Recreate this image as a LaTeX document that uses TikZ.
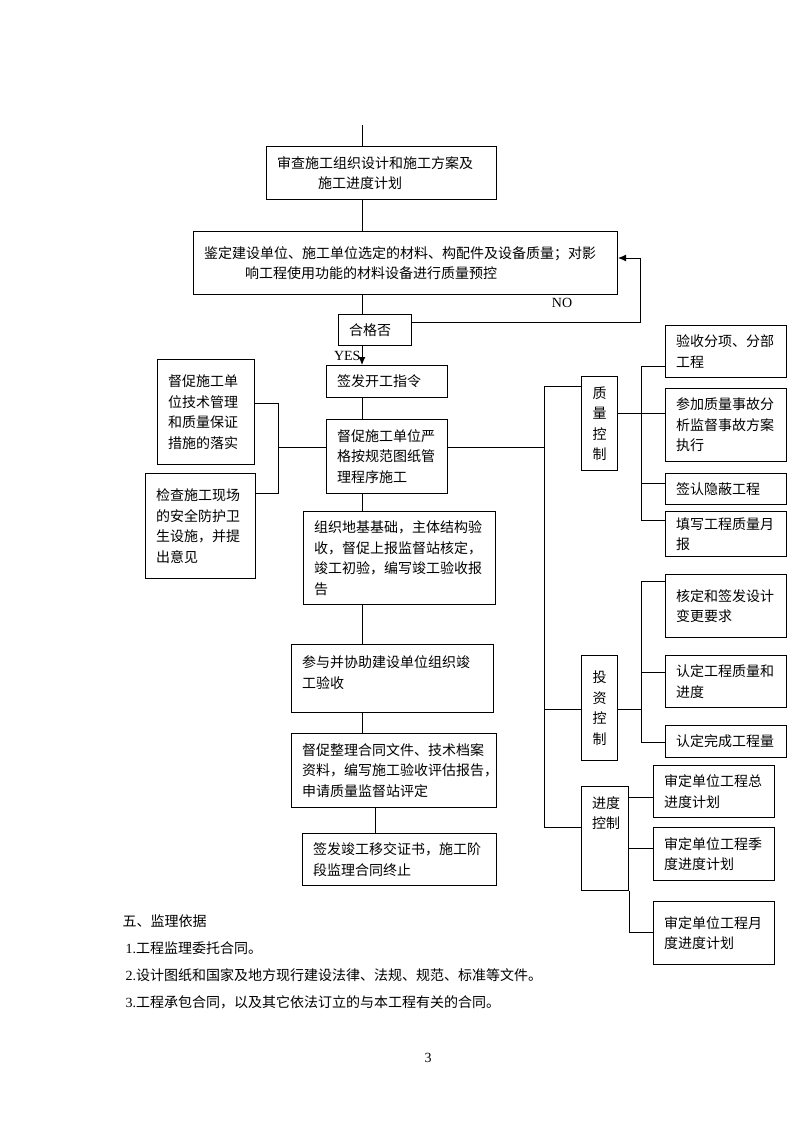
\documentclass[tikz,border=0pt]{standalone}
\usepackage{fontspec}
\setmainfont{Liberation Serif}
\newfontfamily\cjk{Noto Sans CJK SC}
\usetikzlibrary{arrows.meta}

\begin{document}
\begin{tikzpicture}[x=1pt,y=-1pt,line width=1pt,font=\fontsize{14}{17}\selectfont,
    >={Latex[length=8pt,width=7pt]},
    box/.style={draw,anchor=north west,align=left,inner xsep=10.5pt,inner ysep=2pt,
      font=\cjk\fontsize{14}{20.5}\selectfont},
    vbox/.style={box,align=center},
    wh/.style 2 args={minimum width=#1pt,minimum height=#2pt,text width=#1pt-21pt},
    txt/.style={anchor=west,inner sep=0pt,font=\cjk\fontsize{14}{17}\selectfont}]
  \useasboundingbox (0,0) rectangle (800,1132);
  \coordinate (entry) at (362,125);
  \coordinate (spine) at (362,0);
  \coordinate (spinetwo) at (375,0);
  \foreach \n/\x/\y in {noline/640/322, loop/640/258,
      lbtop/278/403, lb/278/447, lbbot/278/493,
      rtop/544/386, rmid/544/709, rbot/544/827,
      qtop/641/366, qmid/641/413, qthree/641/483, qbot/641/520,
      itop/641/581, imid/641/672, ijoin/641/709, ibot/641/742,
      sa/628/797, sb/628/848, sbot/628/932} {
    \coordinate (\n) at (\x,\y);
  }

  % main column
  \node[box,wh={230}{53}] (plan) at (266,146) {审查施工组织设计和施工方案及\\\hspace*{41pt}施工进度计划};
  \node[box,wh={424}{63}] (check) at (193,231) {鉴定建设单位、施工单位选定的材料、构配件及设备质量；对影\\\hspace*{41pt}响工程使用功能的材料设备进行质量预控};
  \node[box,wh={73}{31}] (ok) at (338,314) {合格否};
  \node[box,wh={121}{32}] (start) at (326,365) {签发开工指令};
  \node[box,wh={121}{74}] (urge) at (326,419) {督促施工单位严\\格按规范图纸管\\理程序施工};
  \node[box,wh={192}{93}] (found) at (303,511) {组织地基基础，主体结构验\\收，督促上报监督站核定，\\竣工初验，编写竣工验收报\\告};
  \node[box,wh={202}{68},text height=12pt,text depth=34pt] (accept) at (291,644) {参与并协助建设单位组织竣\\工验收};
  \node[box,wh={205}{74}] (archive) at (291,733) {督促整理合同文件、技术档案\\资料，编写施工验收评估报告，\\申请质量监督站评定};
  \node[box,wh={194}{52}] (handover) at (302,833) {签发竣工移交证书，施工阶\\段监理合同终止};

  % left side
  \node[box,wh={97}{105}] (tech) at (157,359) {督促施工单\\位技术管理\\和质量保证\\措施的落实};
  \node[box,wh={110}{105}] (safe) at (145,473) {检查施工现场\\的安全防护卫\\生设施，并提\\出意见};

  % right side
  \node[vbox,wh={36}{94}] (quality) at (581,376) {质\\量\\控\\制};
  \node[vbox,wh={36}{105}] (invest) at (581,655) {投\\资\\控\\制};
  \node[box,wh={47}{104},inner xsep=10pt,text height=12pt,text depth=73pt] (sched) at (581,786) {进度\\控制};
  \foreach \n/\x/\y/\hh/\txt in {%
      qone/665/325/52/验收分项、分部\\工程,
      qtwo/665/388/73/参加质量事故分\\析监督事故方案\\执行,
      qthr/665/473/31/签认隐蔽工程,
      qfour/665/511/45/填写工程质量月\\报,
      ione/665/574/63/核定和签发设计\\变更要求,
      itwo/665/655/52/认定工程质量和\\进度,
      ithr/665/725/32/认定完成工程量,
      sone/653/765/52/审定单位工程总\\进度计划,
      stwo/653/827/53/审定单位工程季\\度进度计划,
      sthr/653/901/63/审定单位工程月\\度进度计划} {
    \node[box,wh={121}{\hh}] (\n) at (\x,\y) {\txt};
  }

  % connectors
  \draw (entry) -- (plan.north -| entry);
  \draw (plan.south -| spine) -- (check.north -| spine);
  \draw (check.south -| spine) -- (ok.north -| spine);
  \draw[->] (ok.south -| spine) -- (start.north -| spine);
  \draw (start.south -| spine) -- (urge.north -| spine);
  \draw (urge.south -| spine) -- (found.north -| spine);
  \draw (found.south -| spine) -- (accept.north -| spine);
  \draw (accept.south -| spine) -- (archive.north -| spine);
  \draw (archive.south -| spinetwo) -- (handover.north -| spinetwo);
  \draw[->] (ok.east |- noline) -- (noline) -- (loop) -- (check.east |- loop);

  \draw (tech.east |- lbtop) -- (lbtop) -- (lbbot) -- (safe.east |- lbbot);
  \draw (lb) -- (urge.west |- lb);
  \draw (urge.east |- lb) -- (rtop |- lb);
  \draw (quality.west |- rtop) -- (rtop) -- (rbot) -- (sched.west |- rbot);
  \draw (rmid) -- (invest.west |- rmid);

  \draw (qone.west |- qtop) -- (qtop) -- (qbot) -- (qfour.west |- qbot);
  \draw (quality.east |- qmid) -- (qtwo.west |- qmid);
  \draw (qthree) -- (qthr.west |- qthree);
  \draw (ione.west |- itop) -- (itop) -- (ibot) -- (ithr.west |- ibot);
  \draw (imid) -- (itwo.west |- imid);
  \draw (invest.east |- ijoin) -- (ijoin);
  \draw (sched.east |- sa) -- (sone.west |- sa);
  \draw (sched.east |- sb) -- (stwo.west |- sb);
  \draw (sched.south east) -- (sched.south east |- sbot) -- (sthr.west |- sbot);

  \node[anchor=east,inner sep=0pt] (yes) at (361,356) {YES};
  \node[inner sep=0pt] (no) at (562,303) {NO};

  % text below
  \node[txt] (basis) at (122,921) {五、监理依据};
  \foreach \i/\y/\txt in {%
      1/948/工程监理委托合同。,
      2/975/设计图纸和国家及地方现行建设法律、法规、规范、标准等文件。,
      3/1002/工程承包合同，以及其它依法订立的与本工程有关的合同。} {
    \node[txt] (basis\i) at (125,\y) {\rmfamily\i.\cjk\txt};
  }
  \node[inner sep=0pt] (page) at (428,1058) {3};
\end{tikzpicture}
\end{document}
